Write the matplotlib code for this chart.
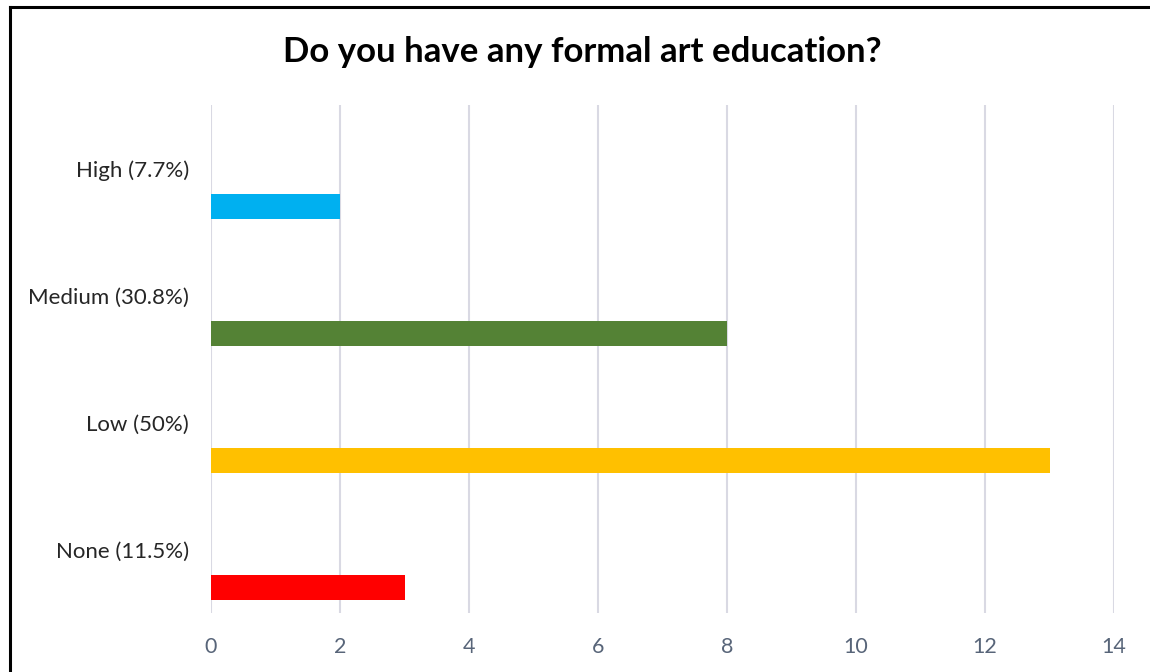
import matplotlib
matplotlib.use("Agg")
import matplotlib.pyplot as plt
from matplotlib.lines import Line2D

categories = ["None (11.5%)", "Low (50%)", "Medium (30.8%)", "High (7.7%)"]
values = [3, 13, 8, 2]
colors = ["#FF0000", "#FFC000", "#548235", "#00B0F0"]
xticks = [0, 2, 4, 6, 8, 10, 12, 14]
title = "Do you have any formal art education?"

W, H = 1150, 672
fig = plt.figure(figsize=(W / 100, H / 100), dpi=100)
fig.patch.set_facecolor("white")

ax = fig.add_axes([211 / W, 1 - 613 / H, (1114 - 211) / W, (613 - 105) / H])
ypos = list(range(len(categories)))
ax.barh([y - 0.3 for y in ypos], values, height=0.197, color=colors, zorder=3)
ax.set_xlim(0, 14)
ax.set_ylim(-0.5, len(categories) - 0.5)
ax.set_xticks(xticks)
ax.set_xticklabels([str(t) for t in xticks])
ax.set_yticks(ypos)
ax.set_yticklabels(categories)
ax.grid(axis="x", color="#D9D9E3", linewidth=1.5, zorder=0)
for s in ax.spines.values():
    s.set_visible(False)
ax.tick_params(axis="both", length=0)
ax.tick_params(axis="y", pad=16, labelsize=16, labelcolor="#262626")
ax.tick_params(axis="x", pad=17, labelsize=15.5, labelcolor="#586579")
for lab in ax.get_yticklabels() + ax.get_xticklabels():
    lab.set_family(["Lato", "DejaVu Sans"])

fig.text(582 / W, 1 - 52 / H, title, ha="center", va="center", fontsize=25,
         fontweight="bold", family=["Lato", "DejaVu Sans"], color="black")

fig.add_artist(Line2D([10 / W, 10 / W], [0, 1 - 7 / H], transform=fig.transFigure,
                      color="black", linewidth=2.2))
fig.add_artist(Line2D([10 / W, 1], [1 - 7 / H, 1 - 7 / H], transform=fig.transFigure,
                      color="black", linewidth=2.2))

fig.savefig("out.png", dpi=100)
